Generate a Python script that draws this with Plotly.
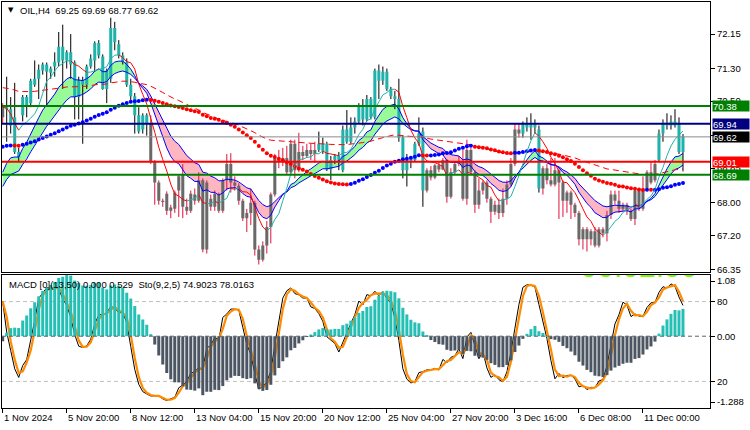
import numpy as np
import plotly.graph_objects as go

SYMBOL = "OIL,H4"

OPEN = [70.10, 70.35, 70.30, 70.10, 69.25, 70.15, 70.60, 70.45, 70.90, 71.05,
        71.25, 71.40, 71.20, 71.35, 71.45, 71.84, 71.50, 71.70, 71.45, 70.60,
        71.00, 70.90, 71.35, 71.50, 71.93, 71.60, 70.80, 71.05, 72.30, 71.90,
        71.62, 71.47, 70.90, 70.62, 70.15, 69.80, 70.15, 69.95, 69.00, 68.50,
        68.05, 68.22, 67.80, 67.85, 68.30, 68.70, 67.90, 67.80, 68.20, 68.05,
        68.55, 66.85, 68.10, 67.90, 68.20, 67.80, 68.55, 68.95, 68.50, 68.42,
        68.05, 67.62, 67.75, 68.00, 66.85, 66.60, 66.95, 67.40, 68.20, 69.10,
        69.00, 69.10, 68.75, 69.45, 68.80, 69.25, 69.15, 69.30, 69.20, 69.30,
        69.45, 69.45, 68.82, 69.05, 69.15, 68.80, 69.80, 69.50, 69.85, 70.00,
        70.40, 70.05, 70.55, 70.10, 71.25, 71.00, 71.22, 70.80, 70.62, 70.55,
        69.60, 68.80, 69.00, 69.05, 69.45, 69.75, 68.30, 68.80, 68.62, 68.92,
        68.82, 69.05, 68.15, 68.75, 68.95, 69.02, 68.10, 69.30, 68.75, 67.95,
        68.30, 68.50, 68.10, 67.78, 67.95, 67.75, 68.10, 68.45, 68.95, 69.80,
        69.70, 69.95, 69.85, 69.95, 69.80, 68.35, 68.85, 68.55, 68.45, 68.80,
        68.50, 68.05, 68.25, 67.95, 67.75, 67.10, 67.35, 67.10, 67.30, 66.95,
        67.35, 67.25, 67.70, 68.20, 68.05, 67.85, 67.95, 67.80, 67.60, 68.30,
        67.85, 68.35, 68.75, 68.55, 69.05, 69.70, 69.97, 69.90, 70.00, 69.95,
        69.25]
HIGH = [70.45, 71.10, 70.60, 70.95, 69.35, 70.65, 70.65, 71.05, 71.50, 71.40,
        71.45, 71.45, 71.35, 71.70, 72.20, 72.38, 71.75, 72.15, 71.50, 71.10,
        71.10, 71.40, 71.65, 71.97, 72.00, 71.65, 71.30, 72.55, 72.45, 72.00,
        71.70, 71.55, 71.05, 70.70, 70.35, 70.20, 70.20, 70.15, 69.05, 68.55,
        68.10, 68.28, 67.95, 68.30, 68.70, 68.95, 68.10, 68.30, 68.35, 68.75,
        68.60, 68.55, 68.20, 68.30, 68.25, 68.60, 69.20, 69.22, 68.65, 68.48,
        68.10, 67.85, 68.35, 68.05, 66.95, 67.05, 67.55, 68.25, 69.20, 69.30,
        69.35, 69.40, 69.55, 69.55, 69.72, 69.40, 69.45, 69.45, 69.50, 69.75,
        69.60, 69.50, 69.15, 69.20, 69.25, 69.90, 70.28, 70.10, 70.10, 70.45,
        70.55, 70.65, 70.60, 71.30, 71.40, 71.35, 71.30, 70.85, 70.75, 71.05,
        69.65, 69.20, 69.15, 69.50, 70.10, 69.85, 68.85, 68.90, 68.95, 69.00,
        69.10, 69.08, 68.85, 69.00, 69.15, 69.30, 69.55, 69.35, 68.80, 68.60,
        68.55, 68.55, 68.15, 68.05, 68.10, 68.35, 68.55, 69.10, 69.95, 69.95,
        70.00, 70.10, 70.20, 70.05, 69.90, 68.90, 68.95, 69.10, 69.10, 68.85,
        68.55, 68.30, 68.30, 68.00, 67.80, 67.40, 67.40, 67.35, 67.40, 67.40,
        67.40, 67.80, 68.30, 68.30, 68.30, 68.00, 68.00, 67.85, 68.35, 68.35,
        68.65, 68.80, 69.00, 69.05, 69.80, 70.05, 70.20, 70.15, 70.30, 70.10,
        69.69]
LOW = [69.95, 69.50, 69.70, 69.20, 69.00, 70.00, 70.10, 70.35, 70.85, 70.55,
       71.15, 70.40, 71.05, 71.10, 71.35, 70.80, 71.30, 71.05, 70.05, 70.05,
       69.45, 70.80, 71.30, 71.22, 71.55, 70.78, 70.45, 70.95, 71.75, 71.55,
       71.40, 70.85, 70.50, 69.70, 69.70, 69.70, 69.65, 68.95, 67.95, 67.95,
       67.90, 67.70, 67.62, 67.75, 67.65, 67.62, 67.70, 67.75, 67.95, 68.00,
       66.78, 66.75, 67.80, 67.80, 67.75, 67.75, 68.30, 68.25, 68.30, 67.95,
       67.55, 67.28, 67.45, 66.70, 66.48, 66.55, 66.75, 67.00, 68.15, 68.85,
       68.90, 68.70, 68.70, 68.60, 68.75, 69.05, 69.10, 69.05, 68.98, 69.25,
       69.20, 68.78, 68.56, 68.95, 68.80, 68.75, 69.45, 69.45, 69.70, 69.95,
       69.90, 70.00, 70.05, 70.05, 70.55, 70.90, 70.75, 70.55, 70.30, 69.50,
       68.60, 68.40, 68.85, 69.00, 69.40, 67.90, 68.25, 68.55, 68.58, 68.75,
       68.80, 68.00, 68.10, 68.70, 68.90, 68.05, 67.95, 68.70, 67.75, 67.85,
       68.20, 68.00, 67.50, 67.70, 67.60, 67.65, 67.95, 68.40, 68.90, 69.60,
       69.60, 69.75, 69.55, 69.70, 68.25, 68.20, 68.45, 68.40, 68.40, 67.60,
       67.65, 67.75, 67.60, 67.65, 66.95, 66.85, 66.80, 66.95, 66.90, 66.90,
       67.15, 67.05, 67.60, 67.95, 67.75, 67.80, 67.70, 67.55, 67.45, 67.80,
       67.80, 68.30, 68.45, 68.50, 69.00, 69.50, 69.80, 69.80, 69.85, 69.20,
       68.77]
CLOSE = [70.35, 70.30, 69.90, 69.25, 69.12, 70.60, 70.40, 71.00, 71.05, 71.27,
         71.40, 71.22, 71.30, 71.47, 71.84, 71.50, 71.70, 71.40, 70.60, 71.00,
         70.90, 71.35, 71.55, 71.93, 71.62, 70.80, 71.25, 72.30, 71.95, 71.62,
         71.47, 70.90, 70.62, 70.15, 69.75, 70.15, 69.95, 69.00, 68.50, 68.05,
         68.02, 67.80, 67.88, 68.25, 68.65, 67.90, 67.80, 68.22, 68.05, 68.55,
         66.85, 68.50, 67.90, 68.22, 67.80, 68.55, 68.95, 68.50, 68.42, 68.05,
         67.62, 67.75, 68.00, 66.85, 66.60, 66.95, 67.40, 68.20, 69.10, 69.00,
         69.10, 68.75, 69.45, 68.80, 69.25, 69.15, 69.30, 69.20, 69.30, 69.45,
         69.28, 68.82, 69.05, 69.15, 69.05, 69.80, 69.50, 69.85, 70.00, 70.40,
         70.05, 70.55, 70.10, 71.25, 71.00, 71.22, 70.80, 70.62, 70.55, 69.60,
         68.80, 69.05, 69.10, 69.45, 69.70, 68.30, 68.80, 68.62, 68.92, 68.82,
         69.05, 68.15, 68.75, 68.95, 69.02, 68.10, 69.30, 68.75, 67.95, 68.30,
         68.50, 68.10, 67.78, 67.95, 67.75, 68.10, 68.45, 68.95, 69.80, 69.70,
         69.95, 69.85, 69.95, 69.85, 68.35, 68.85, 68.55, 68.45, 68.80, 68.50,
         68.05, 68.25, 67.95, 67.75, 67.10, 67.35, 67.10, 67.30, 66.95, 67.35,
         67.25, 67.70, 68.20, 68.05, 67.85, 67.95, 67.80, 67.60, 68.30, 67.85,
         68.35, 68.75, 68.50, 68.95, 69.70, 69.97, 69.90, 70.00, 69.90, 69.25,
         69.62]

# bar colouring from the trend indicator: (first bar, 1 = up / teal, 0 = down / grey)
TREND_RUNS = [(0, 0), (1, 1), (37, 0), (79, 1), (106, 0), (130, 1), (135, 0), (164, 1)]

TIME_TICK_BARS = [0, 16, 32, 48, 64, 80, 96, 112, 128, 144, 160]
TIME_TICK_LABELS = ["1 Nov 2024", "5 Nov 20:00", "8 Nov 12:00", "13 Nov 04:00",
                    "15 Nov 20:00", "20 Nov 12:00", "25 Nov 04:00", "27 Nov 20:00",
                    "3 Dec 16:00", "6 Dec 08:00", "11 Dec 00:00"]

PRICE_TICKS = [72.15, 71.30, 70.50, 69.65, 68.85, 68.00, 67.20, 66.35]
HIDDEN_PRICE_TICKS = [69.65]          # fully covered by the bid label in the reference
LEVEL_PRICES = [70.38, 69.94, 69.01, 68.69]
LEVEL_COLORS = ["#008000", "#000080", "#FF0000", "#008000"]
BID_PRICE = 69.62

MACD_TICKS = [1.08, 0.0, -1.288]
MACD_TICK_TEXT = ["1.08", "0.00", "-1.288"]
STO_LEVELS = [80, 20]
PANEL_LABEL = "MACD [0](13,50) 0.000 0.529  Sto(9,2,5) 74.9023 78.0163"
TIMER_TEXT = "00:02:00"

FAST_LEN = 7
BAND_FAST_LEN, BAND_FAST_START = 13, 68.75
BAND_SLOW_LEN, BAND_SLOW_START = 21, 68.40
DOT_LEN, DOT_PRE_CLOSE = 50, 69.36      # simple average; closes before bar 0 taken at this level
DASH_LEN, DASH_START = 100, 70.83
MACD_SLOW_LEN, MACD_SLOW_START = 50, 68.85
STO_K, STO_D, STO_SLOW = 9, 2, 5

# ---------------------------------------------------------------
O = np.array(OPEN); H = np.array(HIGH); L = np.array(LOW); C = np.array(CLOSE)
n = len(C)
idx = np.arange(n)
trend = np.zeros(n, dtype=int)
for start, val in TREND_RUNS:
    trend[start:] = val


def ema(values, period, start):
    a = 2.0 / (period + 1)
    out = [start]
    for v in values[1:]:
        out.append(out[-1] + a * (v - out[-1]))
    return np.array(out)


def sma(values, period):
    return np.array([values[max(0, i - period + 1):i + 1].mean() for i in range(len(values))])


def sma_with_history(values, period, pre):
    out = []
    for i in range(len(values)):
        win = values[max(0, i - period + 1):i + 1]
        missing = period - len(win)
        out.append((win.sum() + missing * pre) / period)
    return np.array(out)


fast = sma(C, FAST_LEN)
band_f = ema(C, BAND_FAST_LEN, BAND_FAST_START)
band_s = ema(C, BAND_SLOW_LEN, BAND_SLOW_START)
dot = sma_with_history(C, DOT_LEN, DOT_PRE_CLOSE)
dash = ema(C, DASH_LEN, DASH_START)
macd = band_f - ema(C, MACD_SLOW_LEN, MACD_SLOW_START)

hh = np.array([H[max(0, i - STO_K + 1):i + 1].max() for i in range(n)])
ll = np.array([L[max(0, i - STO_K + 1):i + 1].min() for i in range(n)])
num = C - ll
den = hh - ll
sto_main = np.array([100 * num[max(0, i - STO_SLOW + 1):i + 1].sum() /
                     max(den[max(0, i - STO_SLOW + 1):i + 1].sum(), 1e-9) for i in range(n)])
sto_sig = sma(sto_main, STO_D)

fig = go.Figure()


def add(tr):
    tr.update(hoverinfo="skip", showlegend=False)
    fig.add_trace(tr)


# ---- band fill (green when fast above slow, pink otherwise)
d = band_f - band_s
polys = {True: ([], []), False: ([], [])}
i = 0
while i < n:
    sgn = d[i] >= 0
    j = i
    while j + 1 < n and (d[j + 1] >= 0) == sgn:
        j += 1
    top_x, top_y = [], []
    if i > 0:
        t = d[i - 1] / (d[i - 1] - d[i])
        top_x.append(i - 1 + t); top_y.append(band_f[i - 1] + t * (band_f[i] - band_f[i - 1]))
    top_x += list(idx[i:j + 1]); top_y += list(band_f[i:j + 1])
    if j + 1 < n:
        t = d[j] / (d[j] - d[j + 1])
        top_x.append(j + t); top_y.append(band_f[j] + t * (band_f[j + 1] - band_f[j]))
    bot_x = list(idx[i:j + 1][::-1]); bot_y = list(band_s[i:j + 1][::-1])
    px, py = polys[sgn]
    px += top_x + bot_x + [None]
    py += top_y + bot_y + [None]
    i = j + 1
for sgn, col in [(True, "#98FB98"), (False, "#FFB6C1")]:
    px, py = polys[sgn]
    add(go.Scatter(x=px, y=py, mode="lines", fill="toself", fillcolor=col, line=dict(width=0)))

# ---- candles: wicks then bodies (bodies as filled rectangles so they sit above the fills)
for up, col in [(1, "#000000"), (0, "#DC143C")]:
    xs, ys = [], []
    for k in idx[trend == up]:
        xs += [k, k, None]; ys += [L[k], H[k], None]
    add(go.Scatter(x=xs, y=ys, mode="lines", line=dict(color=col, width=1)))
HALF = 0.38
for up, col in [(1, "#20B2AA"), (0, "#696969")]:
    xs, ys = [], []
    for k in idx[trend == up]:
        lo = min(O[k], C[k]); hi = max(O[k], C[k])
        if hi - lo < 0.025:
            hi = lo + 0.025
        xs += [k - HALF, k + HALF, k + HALF, k - HALF, k - HALF, None]
        ys += [lo, lo, hi, hi, lo, None]
    add(go.Scatter(x=xs, y=ys, mode="lines", fill="toself", fillcolor=col, line=dict(width=0)))

# ---- band lines
for v in (band_f, band_s):
    add(go.Scatter(x=idx, y=v, mode="lines", line=dict(color="#0000FF", width=1)))

# ---- long dashed average
add(go.Scatter(x=idx, y=dash, mode="lines", line=dict(color="#FF0000", width=1, dash="6px,4px")))

# ---- dotted average coloured by slope
slope_up = np.r_[True, np.diff(dot) >= 0]
for up, col in [(True, "#0000FF"), (False, "#FF0000")]:
    add(go.Scatter(x=idx[slope_up == up], y=dot[slope_up == up], mode="markers",
                   marker=dict(color=col, size=4)))

# ---- fast line coloured by slope
for up, col in [(True, "#20B2AA"), (False, "#FF0000")]:
    xs, ys = [], []
    for k in range(1, n):
        if (fast[k] >= fast[k - 1]) == up:
            xs += [k - 1, k, None]; ys += [fast[k - 1], fast[k], None]
    add(go.Scatter(x=xs, y=ys, mode="lines", line=dict(color=col, width=1)))

# ---- lower panel: MACD histogram
macd_col = ["#26BFB5" if v >= 0 else "#4C5662" for v in macd]
add(go.Bar(x=idx, y=macd, width=0.75, marker=dict(color=macd_col, line=dict(width=0)),
           xaxis="x2", yaxis="y3"))
# stochastic main (thin black) and signal (orange)
add(go.Scatter(x=idx, y=sto_main, mode="lines", line=dict(color="#000000", width=1),
               xaxis="x2", yaxis="y2"))
add(go.Scatter(x=idx, y=sto_sig, mode="lines", line=dict(color="#FF8C00", width=2.2),
               xaxis="x2", yaxis="y2"))
# timer watermark (mostly hidden behind the price panel)
add(go.Scatter(x=[159], y=[93], mode="text", text=[TIMER_TEXT], textposition="top center",
               textfont=dict(size=30, color="#7CFC00", family="Liberation Sans"),
               cliponaxis=True, xaxis="x2", yaxis="y2"))

# ---- shapes
shapes = []
for p, col in zip(LEVEL_PRICES, LEVEL_COLORS):
    shapes.append(dict(type="line", xref="x domain", yref="y", x0=0, x1=1, y0=p, y1=p,
                       line=dict(color=col, width=2), layer="above"))
shapes.append(dict(type="line", xref="x domain", yref="y", x0=0, x1=1, y0=BID_PRICE, y1=BID_PRICE,
                   line=dict(color="#8C8C8C", width=1), layer="above"))
for lv in STO_LEVELS:
    shapes.append(dict(type="line", xref="x2 domain", yref="y2", x0=0, x1=1, y0=lv, y1=lv,
                       line=dict(color="#C0C0C0", width=1, dash="4px,3px"), layer="below"))
shapes.append(dict(type="line", xref="x2 domain", yref="y3", x0=0, x1=1, y0=0, y1=0,
                   line=dict(color="#5A6470", width=1, dash="4px,3px"), layer="above"))

FONT = "Liberation Sans"
ann = []
box_x = 1.0024
for p, col in zip(LEVEL_PRICES + [BID_PRICE], LEVEL_COLORS + ["#000000"]):
    ann.append(dict(xref="paper", yref="y", x=box_x, y=p, xanchor="left", yanchor="middle",
                    text=f"{p:.2f}", showarrow=False, bgcolor=col, width=36, height=10,
                    align="left", borderpad=0, font=dict(color="white", size=9.5, family=FONT)))
for b, lab in zip(TIME_TICK_BARS, TIME_TICK_LABELS):
    ann.append(dict(xref="x2", yref="paper", x=b, y=-0.0246, xanchor="left", yanchor="middle",
                    text=lab, showarrow=False, xshift=-1, font=dict(color="black", size=9.5, family=FONT)))
ann.append(dict(xref="paper", yref="paper", x=0.0063, y=0.9795, xanchor="left", yanchor="middle",
                text="▼", showarrow=False, font=dict(color="black", size=7, family="DejaVu Sans")))
ann.append(dict(xref="paper", yref="paper", x=0.0226, y=0.9795, xanchor="left", yanchor="middle",
                text=f"{SYMBOL}  {OPEN[-1]:.2f} {HIGH[-1]:.2f} {LOW[-1]:.2f} {CLOSE[-1]:.2f}",
                showarrow=False, font=dict(color="black", size=9.5, family=FONT)))
ann.append(dict(xref="paper", yref="paper", x=0.007, y=0.3054, xanchor="left", yanchor="middle",
                text=PANEL_LABEL, showarrow=False, font=dict(color="black", size=9.5, family=FONT)))

axis_common = dict(showgrid=False, zeroline=False, showline=True, linecolor="black", linewidth=1,
                   mirror=True)
fig.update_layout(
    width=750, height=430, margin=dict(l=2, r=40, t=2, b=22),
    paper_bgcolor="white", plot_bgcolor="white", barmode="overlay", showlegend=False,
    font=dict(family=FONT, size=9.5, color="black"),
    xaxis=dict(domain=[0, 1], range=[-0.175, 176.75], anchor="y", showticklabels=False,
               ticks="", **axis_common),
    yaxis=dict(domain=[0.3342, 1], range=[66.288, 72.938], side="right", anchor="x",
               tickvals=PRICE_TICKS,
               ticktext=["" if v in HIDDEN_PRICE_TICKS else f"{v:.2f}" for v in PRICE_TICKS],
               ticks="outside", ticklen=4, tickcolor="black", **axis_common),
    xaxis2=dict(domain=[0, 1], range=[-0.175, 176.75], anchor="y2", matches="x",
                tickvals=TIME_TICK_BARS, showticklabels=False, ticks="outside", ticklen=4,
                tickcolor="black", **axis_common),
    yaxis2=dict(domain=[0, 0.3276], range=[0, 100], side="right", anchor="x2",
                tickvals=STO_LEVELS, ticktext=[str(v) for v in STO_LEVELS],
                ticks="outside", ticklen=4, tickcolor="black", **axis_common),
    yaxis3=dict(range=[-1.405, 1.198], overlaying="y2", side="right", anchor="x2",
                tickvals=MACD_TICKS, ticktext=MACD_TICK_TEXT, showgrid=False, zeroline=False,
                ticks="outside", ticklen=4, tickcolor="black", showline=False),
    shapes=shapes, annotations=ann,
)

fig.write_html("out.html", config={"displayModeBar": False})
